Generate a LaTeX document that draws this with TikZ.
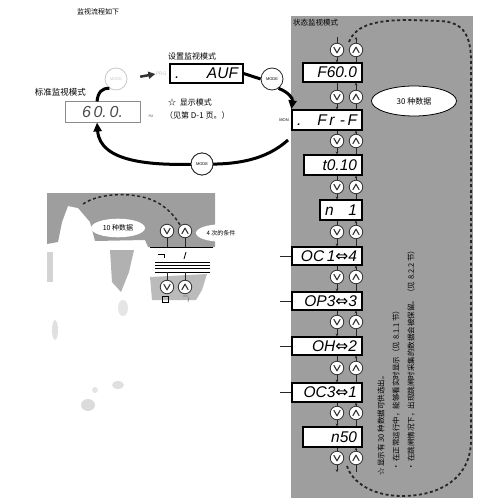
\documentclass[tikz,border=0pt]{standalone}
\usepackage{fontspec}
\setmainfont{Liberation Sans}
\newfontfamily\cjk{Noto Sans CJK SC}
\newfontfamily\dvs{DejaVu Sans}
\usetikzlibrary{arrows.meta,shapes.geometric,calc}
\definecolor{panelgray}{RGB}{158,158,158}
\definecolor{fadegray}{RGB}{200,200,200}
\newcommand\mkdisp[6]{%
  \pgfmathsetmacro\dw{#4-#2-10}\pgfmathsetmacro\dh{#5-#3}%
  \node[disp, minimum height=\dh pt, text width=\dw pt] (#1) at ({(#2+#4)/2},{(#3+#5)/2}) {#6};}
\newcommand\eqv{{\dvs\upshape ⇔}}
\begin{document}
\begin{tikzpicture}[x=1pt,y=-1pt,
  disp/.style={draw=black, line width=1.4pt, fill=white, inner xsep=5pt, inner ysep=0pt,
     align=right, font=\fontsize{15.5}{16}\selectfont\itshape},
  btn/.style={circle, draw=black!80, line width=0.8pt, fill=white, minimum size=13.5pt, inner sep=0pt},
  dn/.style={btn, path picture={\draw[line width=1.1pt,line join=round]
     ($(path picture bounding box.center)+(-3.2pt,2.8pt)$) -- ++(3.2pt,-5.6pt) -- ++(3.2pt,5.6pt);}},
  up/.style={btn, path picture={\draw[line width=1.1pt,line join=round]
     ($(path picture bounding box.center)+(-3.2pt,-2.8pt)$) -- ++(3.2pt,5.6pt) -- ++(3.2pt,-5.6pt);}},
  conn/.style={line width=0.6pt, draw=black!85},
  tip/.style={-{Stealth[length=2.6pt,width=2.6pt]}},
  dsh/.style={line width=1.8pt, dash pattern=on 3pt off 2.6pt, draw=black!85},
  thk/.style={line width=3pt, draw=black},
  bigtip/.style={-{Triangle[length=9pt,width=8pt]}},
  mode/.style={circle, draw=black!85, line width=0.8pt, fill=white, minimum size=22pt, inner sep=0pt,
     font=\fontsize{4}{4}\selectfont},
  lbl/.style={font=\cjk\fontsize{8}{9}\selectfont, inner sep=0pt},
  vtxt/.style={font=\cjk\fontsize{7.5}{8}\selectfont, rotate=90, anchor=west, inner sep=0pt}
]
\useasboundingbox (0,0) rectangle (500,500);

% ---------- title ----------
\node[lbl, font=\cjk\fontsize{7}{8}\selectfont] (title) at (98,12) {监视流程如下};

% ---------- right panel ----------
\fill[panelgray] (291,16) rectangle (473,498);
\node[lbl, font=\cjk\fontsize{7.5}{8}\selectfont, anchor=west] (ptitle) at (293,23) {状态监视模式};

% dashed loop
\coordinate (dA) at (349,42);
\coordinate (dB) at (347,466);
\draw[dsh] (dA) .. controls (356,24) and (378,20) .. (410,20) -- (440,21)
  .. controls (464,22) and (471,36) .. (471,62) -- (471,440)
  .. controls (471,478) and (440,496) .. (402,496)
  .. controls (372,496) and (352,482) .. (dB);

% ellipse 30
\node[ellipse, draw=black, line width=0.8pt, fill=white, minimum width=85pt, minimum height=30pt,
  font=\cjk\fontsize{8}{9}\selectfont] (e30) at (414,101) {30 种数据};

% displays
\mkdisp{f60}{303}{63}{362}{82}{F60.0}
\mkdisp{frf}{292}{110}{362}{130}{.\hfill F\,r\,\,-\,F}
\mkdisp{t010}{304}{155}{362}{175}{t0.10}
\mkdisp{n1}{320}{200}{362}{220}{n\hfill 1}
\mkdisp{oc1}{292}{247}{362}{265}{OC\,1\eqv4}
\mkdisp{op3}{292}{292}{362}{310}{OP3\eqv3}
\mkdisp{oh}{292}{337}{362}{355}{OH\eqv2}
\mkdisp{oc3}{292}{383}{362}{402}{OC3\eqv1}
\mkdisp{n50}{303}{427}{362}{447}{n50}

% buttons
\foreach \i/\y in {1/50,2/97,3/141,4/187,5/232,6/277,7/322,8/368,9/413,10/458}{
  \node[dn] (d\i) at (337,\y) {};
  \node[up] (u\i) at (356,\y) {};
}

% connectors between displays
\foreach \U/\L/\i in {f60/frf/2,frf/t010/3,t010/n1/4,n1/oc1/5,oc1/op3/6,op3/oh/7,oh/oc3/8,oc3/n50/9}{
  \draw[conn] (\U.south -| d\i) -- (d\i.north);
  \draw[conn,tip] (d\i.south) -- (\L.north -| d\i);
  \draw[conn,tip] (u\i.north) -- (\U.south -| u\i);
  \draw[conn] (\L.north -| u\i) -- (u\i.south);
}
\coordinate (t1) at (337,37); \coordinate (t2) at (356,37);
\coordinate (b1) at (337,472); \coordinate (b2) at (356,472);
\draw[conn] (t1) -- (d1.north);
\draw[conn,tip] (d1.south) -- (f60.north -| d1);
\draw[conn] (f60.north -| u1) -- (u1.south);
\draw[conn,tip] (u1.north) -- (t2);
\draw[conn,tip] (d10.south) -- (b1);
\draw[conn] (n50.south -| d10) -- (d10.north);
\draw[conn,tip] (u10.north) -- (n50.south -| u10);
\draw[conn] (b2) -- (u10.south);

% short lines at the left edge
\foreach \b in {oc1,op3,oh,oc3}{
  \draw[conn] (\b.west) -- ++(-11pt,0pt);
}

% vertical notes
\node[vtxt] (v1) at (381,476) {☆ 显示有 30 种数据可供选出。};
\node[vtxt] (v2) at (396,471) {• 在正常运行中，能够看实时显示（见 8.1.1 节）};
\node[vtxt] (v3) at (411,471) {• 在跳闸情况下，出现跳闸时采集的数据会被保留。（见 8.2.2 节）};

% ---------- top-left flow ----------
\node[lbl, anchor=west] (setlbl) at (168,56) {设置监视模式};
\mkdisp{auf}{170}{64}{243}{83}{.\hfill AUF}
\node[lbl, anchor=east, font=\cjk\fontsize{8.5}{9}\selectfont] (stdlbl) at (86,92) {标准监视模式};
\node[draw=black!45, line width=1pt, fill=white, minimum width=75pt, minimum height=20pt,
  inner sep=0pt, font=\fontsize{16}{16}\selectfont\itshape, text=black!70] (std) at (102.5,112) {6\,0.\,0.};
\node[font=\fontsize{4}{4}\selectfont, text=black!60, inner sep=0pt] (hz) at (151,116) {Hz};

\node[mode, draw=fadegray, text=fadegray] (m1) at (116,79) {MODE};
\node[font=\fontsize{5}{5}\selectfont, text=fadegray, inner sep=0pt] (prg) at (161,74) {PRG};
\node[mode] (m2) at (272,79) {MODE};
\node[mode] (m3) at (202,164) {MODE};
\node[font=\fontsize{4}{4}\selectfont, inner sep=0pt] (mon) at (284,120) {MON};

\node[lbl, anchor=west] (star) at (168,102) {☆\ \ 显示模式};
\node[lbl, anchor=west] (seep) at (165,115) {（见第 D-1 页。）};

% thick connectors
\draw[-{Triangle[length=7pt,width=7pt]}, line width=2.5pt, draw=black!80, shorten <=13pt] (m1.east) -- (prg.west);
\draw[thk] (std.north -| 97,0) .. controls (98,92) and (102,88) .. (m1.235);
\draw[thk] (auf.east) -- (m2.west);
\draw[thk, bigtip] (m2.-55) .. controls (288,92) and (293,98) .. (frf.north west);
\coordinate (loopstart) at (288,140);
\draw[thk] (loopstart) .. controls (266,160) and (236,165) .. (m3.center);
\draw[thk, bigtip] (m3.center) .. controls (150,166) and (100,162) .. (std.south -| 97,0);
\node[mode] at (m3) {MODE};

% ---------- lower-left fragment ----------
\fill[panelgray] (47,193) -- (215,193) -- (215,247) -- (148,247) -- (145,240) -- (95,241)
  -- (90,222) -- (78,208) -- (68,206) -- (62,222) -- (58,242) -- (47,244) -- cycle;
\fill[panelgray!80] (110,250) -- (134,250) -- (129,272) -- (121,292) -- (112,282) -- cycle;
\fill[panelgray!45] (47,252) rectangle (53,282);
\fill[panelgray!70] (150,277) -- (207,274) -- (202,290) -- (196,300) -- (152,300) -- cycle;
\draw[dsh, line width=1.5pt] (83,204) .. controls (100,192) and (140,191) .. (160,204)
  .. controls (172,212) and (177,220) .. (180,225);
\node[ellipse, fill=white, minimum width=54pt, minimum height=18pt,
  font=\cjk\fontsize{7}{8}\selectfont] (e10) at (118,228) {10 种数据};
\node[dn] (fd1) at (167,231) {};
\node[up] (fu1) at (185,231) {};
\node[ellipse, fill=white, minimum width=46pt, minimum height=16pt,
  font=\cjk\fontsize{6}{7}\selectfont] (e4) at (221,233) {4 次的条件};
\coordinate (fl) at (150,247); \coordinate (fr) at (213,247);
\draw[line width=1pt] (fl) -- (fr);
\draw[conn] (fd1.south) -- (fd1.south |- fl);
\draw[conn] (fu1.south) -- (fu1.south |- fl);
\draw[line width=0.8pt] (158,254) -- (164,254) -- (164,258);
\draw[line width=0.8pt] (186,252) -- (184,259);
\foreach \yy in {262,265,268,272}{ \draw[line width=0.7pt] (155,\yy) -- (210,\yy); }
\node[dn] (fd2) at (167,287) {};
\node[up] (fu2) at (185,287) {};
\draw[conn] (fd2.north) -- (167,272);
\draw[conn] (fu2.north) -- (185,272);
\draw[line width=0.7pt] (162,296) rectangle (168,302);
\draw[line width=0.6pt, draw=black!50] (183,296) -- (188,296) (189,297) -- (188,302);

% faint blobs
\fill[black!12] (55,330) ellipse (3pt and 10pt);
\fill[black!10] (123,308) ellipse (5pt and 8pt);
\fill[black!12] (118,385) ellipse (6pt and 4pt);
\fill[black!10] (95,390) ellipse (3pt and 3pt);
\fill[black!14] (88,405) ellipse (7pt and 6pt);
\end{tikzpicture}
\end{document}
